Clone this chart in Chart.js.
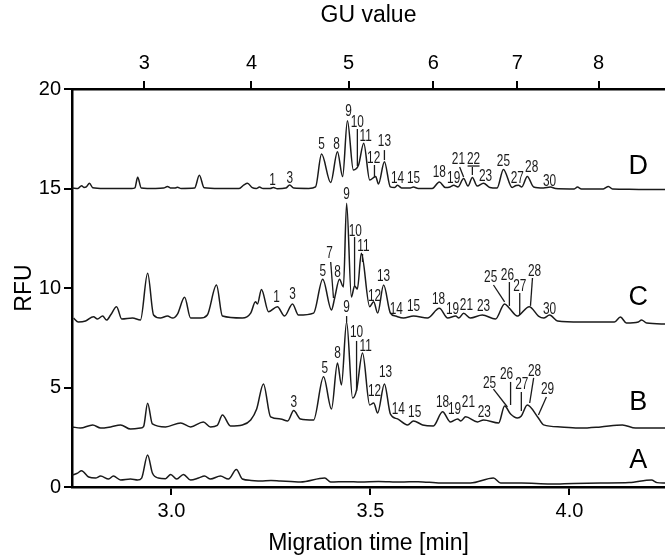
<!DOCTYPE html>
<html>
<head>
<meta charset="utf-8">
<script src="https://cdn.jsdelivr.net/npm/chart.js@4/dist/chart.umd.min.js"></script>
<style>
html,body{margin:0;padding:0;background:#fff;}
canvas{display:block;}
</style>
</head>
<body>
<canvas id="ceChart" width="665" height="558"></canvas>
<script>

// Migration time ticks (bottom) and GU value ticks (top)

const timeTicks = [3.0, 3.5, 4.0];

const guValues = [3, 4, 5, 6, 7, 8];

const guTimes = [2.932, 3.201, 3.445, 3.658, 3.869, 4.073];

// Electropherograms [time, RFU]

const traceA = [
[2.751,0.60],[2.764,0.70],[2.774,0.82],[2.792,0.50],[2.809,0.45],[2.822,0.55],
[2.842,0.40],[2.854,0.55],[2.872,0.35],[2.897,0.40],[2.915,0.35],[2.925,0.45],
[2.940,1.61],[2.952,0.70],[2.967,0.45],[2.985,0.42],[2.998,0.63],[3.013,0.40],
[3.030,0.63],[3.048,0.35],[3.068,0.45],[3.083,0.55],[3.098,0.40],[3.123,0.55],
[3.143,0.40],[3.163,0.88],[3.178,0.40],[3.200,0.33],[3.224,0.30],[3.250,0.33],
[3.274,0.30],[3.300,0.28],[3.324,0.25],[3.385,0.45],[3.400,0.25],[3.440,0.27],
[3.475,0.25],[3.520,0.28],[3.575,0.25],[3.620,0.27],[3.676,0.20],[3.751,0.20],
[3.809,0.45],[3.827,0.20],[3.880,0.20],[3.952,0.15],[4.010,0.18],[4.078,0.20],
[4.150,0.22],[4.206,0.35],[4.220,0.22],[4.241,0.20]
];

const traceB = [
[2.751,3.02],[2.771,2.96],[2.802,3.12],[2.822,2.96],[2.847,3.02],[2.872,3.12],
[2.897,2.91],[2.922,2.96],[2.930,3.05],[2.940,4.21],[2.952,3.17],[2.985,3.02],
[3.023,3.22],[3.048,3.02],[3.080,3.27],[3.098,3.02],[3.115,3.10],[3.128,3.62],
[3.148,3.07],[3.178,3.12],[3.199,3.37],[3.214,3.92],[3.231,5.18],[3.249,3.52],
[3.274,3.42],[3.292,3.32],[3.307,3.84],[3.324,3.42],[3.357,3.37],[3.382,5.54],
[3.402,3.92],[3.417,6.23],[3.427,5.13],[3.440,8.29],[3.455,4.47],[3.465,4.87],
[3.480,6.73],[3.498,4.12],[3.508,4.22],[3.518,3.72],[3.535,5.18],[3.550,3.67],
[3.568,3.42],[3.593,3.12],[3.608,3.32],[3.631,3.12],[3.658,3.07],[3.681,3.78],
[3.701,3.27],[3.719,3.42],[3.727,3.32],[3.739,3.53],[3.769,3.27],[3.784,3.37],
[3.822,3.22],[3.837,4.07],[3.852,3.67],[3.869,3.47],[3.879,3.57],[3.894,4.12],
[3.920,3.52],[3.935,3.12],[3.978,3.02],[4.028,2.96],[4.078,3.02],[4.133,3.12],
[4.166,2.96],[4.241,2.96]
];

const traceC = [
[2.754,8.49],[2.766,8.29],[2.784,8.34],[2.804,8.56],[2.814,8.44],[2.827,8.59],
[2.837,8.39],[2.847,8.64],[2.862,9.06],[2.875,8.44],[2.902,8.49],[2.922,8.39],
[2.940,10.74],[2.955,8.64],[2.972,8.49],[2.990,8.59],[3.003,8.49],[3.015,8.69],
[3.033,9.53],[3.048,8.49],[3.073,8.49],[3.090,8.64],[3.113,10.15],[3.128,8.59],
[3.178,8.49],[3.199,8.74],[3.211,9.31],[3.216,9.20],[3.226,9.93],[3.244,8.81],
[3.266,9.06],[3.284,8.59],[3.304,9.20],[3.319,8.64],[3.357,8.74],[3.380,10.44],
[3.402,8.90],[3.410,9.50],[3.422,10.44],[3.432,10.05],[3.440,14.26],[3.452,9.55],
[3.460,10.10],[3.467,9.95],[3.477,11.74],[3.498,9.06],[3.508,9.31],[3.518,8.74],
[3.533,10.15],[3.550,8.74],[3.563,8.59],[3.583,8.49],[3.608,8.59],[3.643,8.49],
[3.673,8.98],[3.694,8.49],[3.714,8.59],[3.722,8.49],[3.734,8.73],[3.751,8.49],
[3.781,8.64],[3.814,8.44],[3.837,9.20],[3.849,8.98],[3.869,8.59],[3.874,8.64],
[3.899,9.06],[3.922,8.59],[3.935,8.49],[3.950,8.64],[3.970,8.34],[4.028,8.29],
[4.078,8.29],[4.113,8.29],[4.128,8.54],[4.143,8.24],[4.173,8.29],[4.181,8.39],
[4.194,8.24],[4.241,8.19]
];

const traceD = [
[2.751,15.02],[2.765,15.00],[2.774,15.14],[2.780,15.05],[2.786,15.08],[2.794,15.26],
[2.802,15.04],[2.830,15.00],[2.900,15.00],[2.908,15.03],[2.915,15.56],[2.924,15.03],
[2.960,15.00],[2.980,15.02],[2.990,15.10],[2.997,15.03],[3.008,15.02],[3.015,15.06],
[3.024,15.00],[3.058,15.02],[3.070,15.66],[3.082,15.04],[3.120,15.00],[3.170,15.00],
[3.182,15.18],[3.191,15.26],[3.203,15.04],[3.213,15.00],[3.221,15.07],[3.230,15.00],
[3.248,15.00],[3.256,15.05],[3.266,14.99],[3.287,15.02],[3.297,15.17],[3.307,15.02],
[3.345,15.00],[3.362,15.08],[3.377,16.73],[3.400,15.30],[3.417,16.85],[3.430,15.60],
[3.442,18.41],[3.457,15.93],[3.470,16.18],[3.483,17.27],[3.498,15.43],[3.513,15.60],
[3.520,15.23],[3.535,16.35],[3.550,15.08],[3.560,15.05],[3.568,15.16],[3.578,15.03],
[3.598,15.02],[3.608,15.07],[3.620,15.00],[3.655,15.00],[3.673,15.33],[3.688,15.05],
[3.700,15.08],[3.709,15.16],[3.720,15.08],[3.734,15.50],[3.745,15.12],[3.756,15.55],
[3.768,15.12],[3.784,15.27],[3.800,15.05],[3.818,15.02],[3.834,15.96],[3.856,15.05],
[3.866,15.15],[3.872,15.16],[3.880,15.08],[3.894,15.60],[3.910,15.08],[3.935,15.03],
[3.952,15.07],[3.965,15.00],[4.000,14.98],[4.012,14.98],[4.020,15.07],[4.030,14.98],
[4.060,14.97],[4.085,14.98],[4.098,15.10],[4.108,14.97],[4.150,14.96],[4.200,14.95],
[4.241,14.95]
];

// Peak numbers [text, time, RFU]

const peakLabelsD = [
["1",3.254,15.38],["3",3.297,15.48],["5",3.377,17.19],["8",3.415,17.19],
["9",3.445,18.84],["10",3.467,18.29],["11",3.488,17.59],["12",3.508,16.48],
["13",3.535,17.34],["14",3.568,15.48],["15",3.608,15.48],["18",3.673,15.78],
["19",3.709,15.48],["21",3.721,16.43],["22",3.759,16.43],["23",3.789,15.58],
["25",3.834,16.33],["27",3.869,15.48],["28",3.905,16.03],["30",3.950,15.33]
];

const peakLabelsC = [
["1",3.264,9.50],["3",3.304,9.65],["5",3.380,10.80],["7",3.397,11.71],
["8",3.417,10.75],["9",3.440,14.67],["10",3.462,12.81],["11",3.482,12.06],
["12",3.510,9.55],["13",3.533,10.55],["14",3.565,8.94],["15",3.608,9.05],
["18",3.671,9.40],["19",3.706,8.89],["21",3.741,9.10],["23",3.784,9.05],
["25",3.802,10.50],["26",3.844,10.60],["27",3.875,10.05],["28",3.912,10.80],
["30",3.950,8.89]
];

const peakLabelsB = [
["3",3.307,4.22],["5",3.385,5.93],["8",3.417,6.68],["9",3.440,9.00],
["10",3.465,7.74],["11",3.488,7.04],["12",3.510,4.77],["13",3.538,5.73],
["14",3.570,3.87],["15",3.611,3.72],["18",3.681,4.22],["19",3.711,3.87],
["21",3.746,4.22],["23",3.786,3.72],["25",3.799,5.18],["26",3.842,5.63],
["27",3.880,5.13],["28",3.912,5.78],["29",3.945,4.87]
];

// Leader lines [t1, RFU1, t2, RFU2]

const leaderLines = [
[3.467,17.99,3.467,16.13],[3.510,16.18,3.510,15.58],[3.535,16.93,3.535,16.43],
[3.724,16.08,3.734,15.58],[3.756,16.08,3.756,15.68],[3.744,16.13,3.774,16.13],
[3.400,11.31,3.407,9.50],[3.460,12.56,3.460,10.05],[3.480,11.71,3.480,11.31],
[3.809,10.15,3.837,9.30],[3.849,10.30,3.849,9.10],[3.875,9.75,3.875,8.64],
[3.907,10.50,3.902,9.10],
[3.465,7.34,3.465,4.82],[3.440,8.59,3.440,8.29],[3.809,4.92,3.844,4.02],
[3.852,5.28,3.852,4.12],[3.879,4.77,3.879,3.82],[3.910,5.48,3.900,4.22],
[3.942,4.52,3.922,3.62]
];

// Sample letters [text, time, RFU]

const traceNames = [
["A",4.173,1.31],["B",4.173,4.22],["C",4.173,9.50],["D",4.173,16.08]
];

const toPoints = arr => arr.map(p => ({x: p[0], y: p[1]}));

const lineStyle = {
borderColor: "#1a1a1a",
borderWidth: 1.5,
pointRadius: 0,
fill: false,
cubicInterpolationMode: "monotone"
};

const peakLabels = {

id: "peakLabels",

afterDatasetsDraw(chart){

const ctx = chart.ctx;
const xs = chart.scales.x;
const ys = chart.scales.y;

ctx.save();

ctx.strokeStyle = "#1a1a1a";
ctx.lineWidth = 1.3;

leaderLines.forEach(l=>{
ctx.beginPath();
ctx.moveTo(xs.getPixelForValue(l[0]), ys.getPixelForValue(l[1]));
ctx.lineTo(xs.getPixelForValue(l[2]), ys.getPixelForValue(l[3]));
ctx.stroke();
});

ctx.fillStyle = "#1a1a1a";
ctx.font = '16px "Liberation Sans", Arial, sans-serif';
ctx.textAlign = "center";
ctx.textBaseline = "middle";

[...peakLabelsD, ...peakLabelsC, ...peakLabelsB].forEach(p=>{
ctx.save();
ctx.translate(xs.getPixelForValue(p[1]), ys.getPixelForValue(p[2]));
ctx.scale(0.74, 1);
ctx.fillText(p[0], 0, 0);
ctx.restore();
});

ctx.fillStyle = "#000";
ctx.font = '27px "Liberation Sans", Arial, sans-serif';

traceNames.forEach(n=>{
ctx.fillText(n[0], xs.getPixelForValue(n[1]), ys.getPixelForValue(n[2]));
});

ctx.restore();

}

};

const tickFont = {family: '"Liberation Sans", Arial, sans-serif', size: 20};
const titleFont = {family: '"Liberation Sans", Arial, sans-serif', size: 23};

const axisGrid = {
drawOnChartArea: false,
drawTicks: true,
tickLength: 8,
color: "#000",
lineWidth: 2
};

const axisBorder = {color: "#000", width: 2.5};

new Chart(document.getElementById("ceChart"),{

type: "line",

data: {
datasets: [
{label: "A", data: toPoints(traceA), ...lineStyle},
{label: "B", data: toPoints(traceB), ...lineStyle},
{label: "C", data: toPoints(traceC), ...lineStyle},
{label: "D", data: toPoints(traceD), ...lineStyle}
]
},

options: {

responsive: false,
animation: false,
layout: {padding: 0},

plugins: {
legend: {display: false},
tooltip: {enabled: false}
},

scales: {

x: {
type: "linear",
position: "bottom",
min: 2.75,
max: 4.24,
grid: axisGrid,
border: axisBorder,
afterBuildTicks: s => { s.ticks = timeTicks.map(v => ({value: v})); },
afterFit: s => { s.height = 71; },
ticks: {
autoSkip: false,
maxRotation: 0,
padding: 4,
color: "#000",
font: tickFont,
callback: v => Number(v).toFixed(1)
},
title: {
display: true,
text: "Migration time [min]",
color: "#000",
font: titleFont,
padding: {top: 0, bottom: 1}
}
},

x2: {
type: "linear",
position: "top",
min: 2.75,
max: 4.24,
grid: axisGrid,
border: axisBorder,
afterBuildTicks: s => { s.ticks = guTimes.map(v => ({value: v})); },
afterFit: s => { s.height = 89; },
ticks: {
autoSkip: false,
maxRotation: 0,
padding: 6,
color: "#000",
font: tickFont,
callback: (v, i) => guValues[i]
},
title: {
display: true,
text: "GU value",
color: "#000",
font: titleFont,
padding: {top: 2, bottom: 0}
}
},

y: {
min: 0,
max: 20,
grid: axisGrid,
border: axisBorder,
afterFit: s => { s.width = 72; },
ticks: {
stepSize: 5,
padding: 3,
color: "#000",
font: tickFont
},
title: {
display: true,
text: "RFU",
color: "#000",
font: titleFont,
padding: {top: 11, bottom: 0}
}
}

}

},

plugins: [peakLabels]

});

</script>
</body>
</html>
